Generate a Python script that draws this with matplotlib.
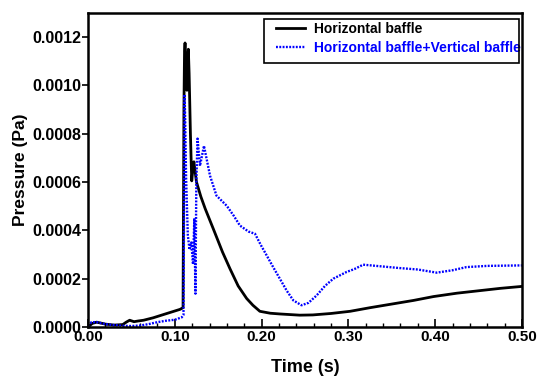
import matplotlib
matplotlib.use("Agg")
import matplotlib.pyplot as plt
from matplotlib.patches import Rectangle
from matplotlib.ticker import MultipleLocator, FormatStrFormatter

# Horizontal baffle (black solid)
t_h = [0.000, 0.005, 0.010, 0.020, 0.030, 0.040, 0.044, 0.048, 0.053, 0.058, 0.064,
       0.075, 0.090, 0.106, 0.1095, 0.1105, 0.1112, 0.1118, 0.1128, 0.1140, 0.1150,
       0.1156, 0.1165, 0.1180, 0.1195, 0.1210, 0.1220, 0.1235, 0.125, 0.130, 0.135,
       0.1444, 0.155, 0.1636, 0.173, 0.1828, 0.190, 0.198, 0.210, 0.221, 0.244, 0.259,
       0.280, 0.302, 0.325, 0.350, 0.375, 0.398, 0.425, 0.450, 0.475, 0.4997]
p_h = [0.0, 0.000015, 0.00002, 0.000012, 0.000008, 0.00001, 0.00002, 0.000028, 0.000022,
       0.000025, 0.000028, 0.000038, 0.000055, 0.000073, 0.00008, 0.0009, 0.00114,
       0.001176, 0.00108, 0.00098, 0.00112, 0.00115, 0.00105, 0.00080, 0.000605,
       0.00066, 0.000684, 0.00064, 0.000600, 0.000540, 0.00049, 0.000406, 0.00031,
       0.000241, 0.00017, 0.000118, 0.00009, 0.000065, 0.000057, 0.000054, 0.000049,
       0.00005, 0.000056, 0.000065, 0.00008, 0.000095, 0.00011, 0.000126, 0.00014,
       0.00015, 0.00016, 0.000168]

# Horizontal baffle + Vertical baffle (blue dotted)
t_v = [0.000, 0.004, 0.010, 0.020, 0.030, 0.040, 0.050, 0.060, 0.070, 0.080, 0.090,
       0.100, 0.108, 0.110, 0.1108, 0.1113, 0.1120, 0.1130, 0.1150, 0.1170, 0.1190,
       0.1210, 0.1225, 0.1238, 0.1248, 0.1262, 0.1290, 0.1336, 0.1406, 0.148, 0.1598,
       0.168, 0.175, 0.185, 0.1924, 0.199, 0.2059, 0.213, 0.221, 0.229, 0.2366, 0.246,
       0.254, 0.2635, 0.273, 0.2826, 0.298, 0.307, 0.317, 0.335, 0.359, 0.380, 0.4017,
       0.420, 0.436, 0.460, 0.4997]
p_v = [0.000005, 0.00002, 0.00002, 0.000012, 0.000008, 0.000005, 0.000004, 0.000006,
       0.000012, 0.00002, 0.000026, 0.00003, 0.00004, 0.00005, 0.0006, 0.000963,
       0.00085, 0.00062, 0.00038, 0.00032, 0.00035, 0.00026, 0.00045, 0.000138,
       0.00060, 0.00078, 0.000667, 0.00075, 0.000626, 0.000544, 0.000502, 0.00046,
       0.00042, 0.000395, 0.000386, 0.00034, 0.000296, 0.00025, 0.0002, 0.00015,
       0.00011, 0.00009, 0.0001, 0.000131, 0.00017, 0.0002, 0.000228, 0.00024,
       0.000258, 0.000252, 0.000244, 0.000238, 0.000225, 0.000235, 0.000248, 0.000253,
       0.000255]

plt.rcParams['font.family'] = ['Liberation Sans', 'DejaVu Sans']
plt.rcParams['font.weight'] = 'bold'

W, H = 548, 381
fig = plt.figure(figsize=(W / 100, H / 100), dpi=100)
ax = fig.add_axes([88 / W, 1 - 327 / H, 434 / W, 314 / H])

ax.plot(t_h, p_h, color='black', lw=2.0, label='Horizontal baffle')
ax.plot(t_v, p_v, color='blue', lw=1.7, ls=(0, (0.8, 0.6)),
        label='Horizontal baffle+Vertical baffle')

ax.set_xlim(0, 0.5)
ax.set_ylim(0, 0.0013)
ax.xaxis.set_major_locator(MultipleLocator(0.1))
ax.xaxis.set_minor_locator(MultipleLocator(0.02))
ax.xaxis.set_major_formatter(FormatStrFormatter('%.2f'))
ax.yaxis.set_major_locator(MultipleLocator(0.0002))
ax.yaxis.set_major_formatter(FormatStrFormatter('%.4f'))
ax.tick_params(axis='x', which='major', direction='in', length=6, width=1.2,
               labelsize=11, pad=2)
ax.tick_params(axis='x', which='minor', direction='in', length=3, width=1.0)
ax.tick_params(axis='y', which='major', direction='out', length=4, width=1.2,
               labelsize=11.5, pad=1)
for lab in ax.get_xticklabels() + ax.get_yticklabels():
    lab.set_fontweight('bold')
for sp in ax.spines.values():
    sp.set_linewidth(1.8)

ax.set_xlabel('Time (s)', fontsize=13, fontweight='bold', labelpad=11)
ax.set_ylabel('Pressure (Pa)', fontsize=12.5, fontweight='bold', labelpad=3)

# legend without its own frame; the box is drawn separately (text runs past it)
leg = ax.legend(loc='upper left', bbox_to_anchor=(276 / W, 1 - 22 / H),
                bbox_transform=fig.transFigure, fontsize=10, frameon=False,
                handlelength=2.1, handletextpad=0.6, borderpad=0, borderaxespad=0,
                labelspacing=0.35)
for txt, c in zip(leg.get_texts(), ['black', 'blue']):
    txt.set_color(c)
    txt.set_fontweight('bold')
fig.add_artist(Rectangle((264 / W, 1 - 63 / H), 255 / W, 44 / H,
                         transform=fig.transFigure, fill=False,
                         edgecolor='black', lw=1.2, zorder=5))

fig.savefig('out.png', dpi=100)
